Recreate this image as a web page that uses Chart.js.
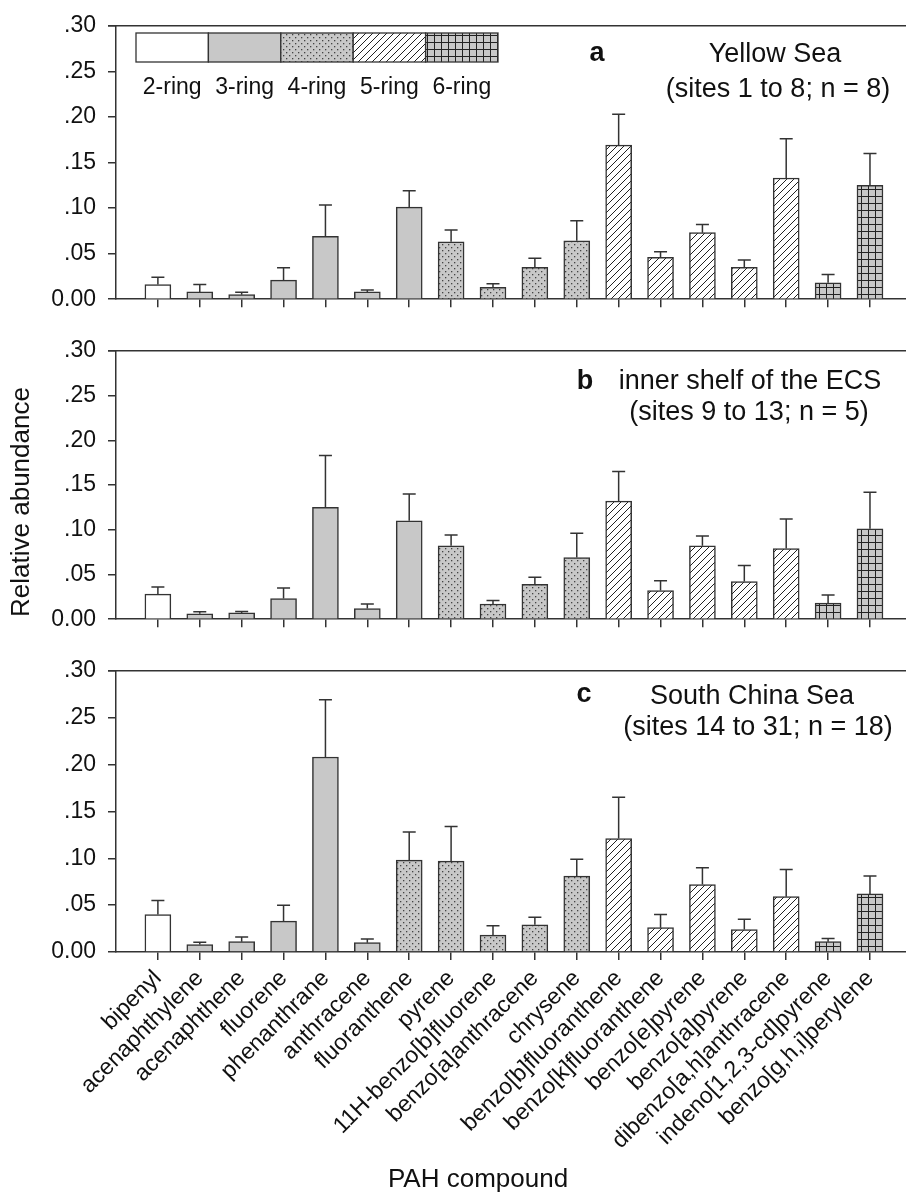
<!DOCTYPE html>
<html>
<head>
<meta charset="utf-8">
<script src="https://cdn.jsdelivr.net/npm/chart.js@4.4.0/dist/chart.umd.min.js"></script>
<style>
  html, body { margin: 0; padding: 0; background: #fff; }
  #wrap { position: relative; width: 906px; height: 1200px; }
  canvas { position: absolute; left: 0; }
</style>
</head>
<body>
<div id="wrap">
  <canvas id="panelA" width="906" height="325" style="top:0"></canvas>
  <canvas id="panelB" width="906" height="320" style="top:325px"></canvas>
  <canvas id="panelC" width="906" height="555" style="top:645px"></canvas>
</div>
<script>
// ---- данные ----
const compounds = ['bipenyl', 'acenaphthylene', 'acenaphthene', 'fluorene', 'phenanthrane',
  'anthracene', 'fluoranthene', 'pyrene', '11H-benzo[b]fluorene', 'benzo[a]anthracene',
  'chrysene', 'benzo[b]fluoranthene', 'benzo[k]fluoranthene', 'benzo[e]pyrene',
  'benzo[a]pyrene', 'dibenzo[a,h]anthracene', 'indeno[1,2,3-cd]pyrene', 'benzo[g,h,i]perylene'];

const ringNames = ['2-ring', '3-ring', '4-ring', '5-ring', '6-ring'];

const ringsA = [2, 3, 3, 3, 3, 3, 3, 4, 4, 4, 4, 5, 5, 5, 5, 5, 6, 6];
const ringsB = [2, 3, 3, 3, 3, 3, 3, 4, 4, 4, 4, 5, 5, 5, 5, 5, 6, 6];
const ringsC = [2, 3, 3, 3, 3, 3, 4, 4, 4, 4, 4, 5, 5, 5, 5, 5, 6, 6];

// a: Yellow Sea
const meanA = [0.016, 0.008, 0.005, 0.021, 0.069, 0.008, 0.101, 0.063, 0.013, 0.035,
  0.064, 0.169, 0.046, 0.073, 0.035, 0.133, 0.018, 0.125];
const sdA = [0.008, 0.008, 0.0025, 0.0135, 0.0345, 0.002, 0.018, 0.013, 0.004, 0.010,
  0.022, 0.034, 0.006, 0.009, 0.008, 0.043, 0.009, 0.035];

// b: inner shelf of the ECS
const meanB = [0.028, 0.006, 0.007, 0.023, 0.125, 0.012, 0.110, 0.082, 0.017, 0.039,
  0.069, 0.132, 0.032, 0.082, 0.042, 0.079, 0.018, 0.101];
const sdB = [0.008, 0.0024, 0.0015, 0.012, 0.058, 0.005, 0.030, 0.012, 0.004, 0.008,
  0.027, 0.033, 0.011, 0.011, 0.018, 0.033, 0.009, 0.041];

// c: South China Sea
const meanC = [0.040, 0.008, 0.011, 0.033, 0.208, 0.010, 0.098, 0.097, 0.018, 0.029,
  0.081, 0.121, 0.026, 0.072, 0.024, 0.059, 0.011, 0.062];
const sdC = [0.015, 0.0025, 0.005, 0.017, 0.061, 0.004, 0.030, 0.037, 0.010, 0.008,
  0.018, 0.044, 0.014, 0.018, 0.011, 0.029, 0.0035, 0.019];

const yTicks = [0, 0.05, 0.10, 0.15, 0.20, 0.25, 0.30];
const yTickLabels = ['0.00', '.05', '.10', '.15', '.20', '.25', '.30'];

const FONT = "'Liberation Sans', Arial, sans-serif";
const INK = '#333';
const GRAY = '#c8c8c8';

// ---- штриховки ----
function tile(size, draw) {
  const c = document.createElement('canvas');
  c.width = size; c.height = size;
  draw(c.getContext('2d'), size);
  return c.getContext('2d').createPattern(c, 'repeat');
}

const dotFill = tile(6, (g, s) => {
  g.fillStyle = GRAY; g.fillRect(0, 0, s, s);
  g.fillStyle = '#444';
  g.fillRect(1, 1, 1.3, 1.3);
  g.fillRect(4, 4, 1.3, 1.3);
});

const hatchFill = tile(7, (g, s) => {
  g.fillStyle = '#fff'; g.fillRect(0, 0, s, s);
  g.strokeStyle = '#222'; g.lineWidth = 1;
  g.beginPath();
  g.moveTo(0, s); g.lineTo(s, 0);
  g.moveTo(-1, 1); g.lineTo(1, -1);
  g.moveTo(s - 1, s + 1); g.lineTo(s + 1, s - 1);
  g.stroke();
});

const gridFill = tile(7, (g, s) => {
  g.fillStyle = GRAY; g.fillRect(0, 0, s, s);
  g.strokeStyle = '#222'; g.lineWidth = 1;
  g.beginPath();
  g.moveTo(0.5, 0); g.lineTo(0.5, s);
  g.moveTo(0, 0.5); g.lineTo(s, 0.5);
  g.stroke();
});

const ringFill = { 2: '#ffffff', 3: GRAY, 4: dotFill, 5: hatchFill, 6: gridFill };

// ---- отрисовка панели ----
function buildPanel(id, means, sds, rings, opts) {
  const decor = {
    id: 'decor',
    afterDatasetsDraw(chart) {
      const ctx = chart.ctx;
      const y = chart.scales.y;
      const bars = chart.getDatasetMeta(0).data;
      ctx.save();
      ctx.strokeStyle = INK;
      ctx.lineWidth = 1.5;
      bars.forEach((bar, i) => {
        const top = y.getPixelForValue(means[i] + sds[i]);
        ctx.beginPath();
        ctx.moveTo(bar.x, bar.y);
        ctx.lineTo(bar.x, top);
        ctx.moveTo(bar.x - 6.5, top);
        ctx.lineTo(bar.x + 6.5, top);
        ctx.stroke();
      });
      ctx.restore();
    },
    afterDraw(chart) {
      const ctx = chart.ctx;
      const area = chart.chartArea;
      ctx.save();
      // верхняя рамка
      ctx.strokeStyle = INK;
      ctx.lineWidth = 1.5;
      ctx.beginPath();
      ctx.moveTo(area.left - 8, area.top);
      ctx.lineTo(area.right, area.top);
      ctx.stroke();

      ctx.fillStyle = '#111';
      ctx.textAlign = 'center';
      ctx.textBaseline = 'middle';
      opts.texts.forEach(t => {
        ctx.font = t.font;
        ctx.save();
        ctx.translate(t.x, t.y);
        if (t.rot) ctx.rotate(t.rot);
        ctx.fillText(t.text, 0, 0);
        ctx.restore();
      });

      if (opts.legend) {
        const L = opts.legend;
        ringNames.forEach((name, k) => {
          const x0 = L.x + k * L.w;
          ctx.fillStyle = ringFill[k + 2];
          ctx.fillRect(x0, L.y, L.w, L.h);
          ctx.strokeStyle = INK;
          ctx.lineWidth = 1.3;
          ctx.strokeRect(x0, L.y, L.w, L.h);
          ctx.fillStyle = '#111';
          ctx.font = '23px ' + FONT;
          ctx.fillText(name, x0 + L.w / 2, L.labelY);
        });
      }
      ctx.restore();
    }
  };

  return new Chart(document.getElementById(id), {
    type: 'bar',
    data: {
      datasets: [{
        data: means.map((v, i) => ({ x: i, y: v })),
        backgroundColor: rings.map(r => ringFill[r]),
        borderColor: INK,
        borderWidth: 1.5,
        barThickness: 26
      }]
    },
    options: {
      responsive: false,
      animation: false,
      devicePixelRatio: 1,
      layout: { padding: { top: opts.padTop, left: 0, right: 0, bottom: 0 } },
      plugins: { legend: { display: false }, tooltip: { enabled: false } },
      scales: {
        x: {
          type: 'linear',
          offset: false,
          min: -1,
          max: 17.86,
          afterBuildTicks: s => { s.ticks = compounds.map((c, i) => ({ value: i })); },
          afterFit: s => { s.height = opts.xHeight; },
          grid: { offset: false, drawOnChartArea: false, drawTicks: true, tickLength: 8, color: INK, lineWidth: 1.5 },
          border: { color: INK, width: 1.5 },
          ticks: {
            display: opts.showLabels,
            autoSkip: false,
            minRotation: 45,
            maxRotation: 45,
            padding: 5,
            color: '#111',
            font: { family: FONT, size: 23 },
            callback: v => compounds[v]
          }
        },
        y: {
          min: 0,
          max: 0.3,
          afterBuildTicks: s => { s.ticks = yTicks.map(v => ({ value: v })); },
          afterFit: s => { s.width = 116; },
          grid: { drawOnChartArea: false, drawTicks: true, tickLength: 8, color: INK, lineWidth: 1.5 },
          border: { color: INK, width: 1.5 },
          ticks: {
            padding: 12,
            color: '#111',
            font: { family: FONT, size: 23 },
            callback: (v, i) => yTickLabels[i]
          }
        }
      }
    },
    plugins: [decor]
  });
}

const titleFont = '27px ' + FONT;
const letterFont = 'bold 27px ' + FONT;

buildPanel('panelA', meanA, sdA, ringsA, {
  padTop: 22, xHeight: 13, showLabels: false,
  legend: { x: 136, y: 33, w: 72.4, h: 29, labelY: 88 },
  texts: [
    { text: 'a', x: 597, y: 54, font: letterFont },
    { text: 'Yellow Sea', x: 775, y: 55, font: titleFont },
    { text: '(sites 1 to 8; n = 8)', x: 778, y: 90, font: titleFont }
  ]
});

buildPanel('panelB', meanB, sdB, ringsB, {
  padTop: 17, xHeight: 13, showLabels: false,
  texts: [
    { text: 'b', x: 585, y: 57, font: letterFont },
    { text: 'inner shelf of the ECS', x: 750, y: 57, font: titleFont },
    { text: '(sites 9 to 13; n = 5)', x: 749, y: 88, font: titleFont },
    { text: 'Relative abundance', x: 22, y: 177, rot: -Math.PI / 2, font: '26px ' + FONT }
  ]
});

buildPanel('panelC', meanC, sdC, ringsC, {
  padTop: 16, xHeight: 248, showLabels: true,
  texts: [
    { text: 'c', x: 584, y: 50, font: letterFont },
    { text: 'South China Sea', x: 752, y: 52, font: titleFont },
    { text: '(sites 14 to 31; n = 18)', x: 758, y: 83, font: titleFont },
    { text: 'PAH compound', x: 478, y: 535, font: '26px ' + FONT }
  ]
});
</script>
</body>
</html>
